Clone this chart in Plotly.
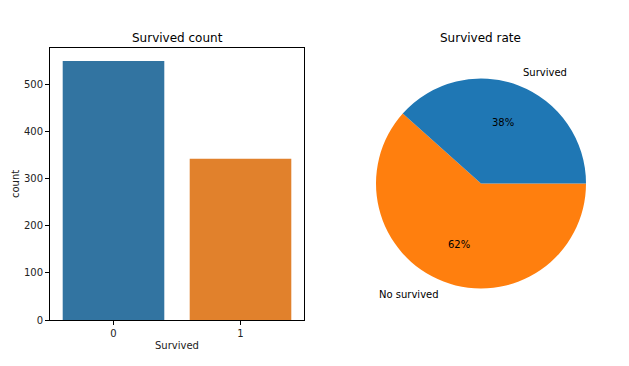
import math
import plotly.graph_objects as go

# ---- data ----
bar_categories = ["0", "1"]
bar_counts = [549, 342]
pie_labels = ["Survived", "No survived"]
pie_values = [342, 549]

bar_colors = ["#3274a1", "#e1812c"]
pie_colors = ["#1f77b4", "#ff7f0e"]

W, H = 629, 366
FONT = "DejaVu Sans"

def px(x):
    return x / W

def py(y):
    return 1 - y / H

fig = go.Figure()

fig.add_trace(go.Bar(
    x=bar_categories, y=bar_counts,
    marker=dict(color=bar_colors, line=dict(width=0)),
    xaxis="x", yaxis="y", showlegend=False, hoverinfo="x+y",
))

# pie geometry (pixels)
cx, cy, r = 481, 183.5, 105
rx, ry = 101.5, 108.5

# matplotlib draws counterclockwise from 3 o'clock; plotly: reverse order, clockwise from 3 o'clock
fig.add_trace(go.Pie(
    labels=pie_labels[::-1], values=pie_values[::-1],
    marker=dict(colors=pie_colors[::-1], line=dict(width=0)),
    sort=False, direction="clockwise", rotation=90,
    textinfo="none", showlegend=False, automargin=False,
    domain=dict(x=[px(cx - r), px(cx + r)], y=[py(cy + r), py(cy - r)]),
))

annotations = []
total = sum(pie_values)
start = 0.0
for lab, v in zip(pie_labels, pie_values):
    frac = v / total
    mid = math.radians((start + frac / 2) * 360)
    start += frac
    c, s = math.cos(mid), math.sin(mid)
    lx = cx + 1.1 * rx * c
    ly = cy - 1.1 * ry * s
    annotations.append(dict(
        x=px(lx), y=py(ly), xref="paper", yref="paper", text=lab,
        showarrow=False, xanchor="left" if c > 0 else "right", yanchor="middle",
        font=dict(family=FONT, size=10, color="#000000"),
    ))
    tx = cx + 0.6 * rx * c
    ty = cy - 0.6 * ry * s
    annotations.append(dict(
        x=px(tx), y=py(ty), xref="paper", yref="paper", text=f"{round(frac*100):.0f}%",
        showarrow=False, xanchor="center", yanchor="middle",
        font=dict(family=FONT, size=10, color="#000000"),
    ))

annotations.append(dict(x=px(177), y=py(38), xref="paper", yref="paper", text="Survived count",
                        showarrow=False, xanchor="center", yanchor="middle",
                        font=dict(family=FONT, size=12, color="#000000")))
annotations.append(dict(x=px(481), y=py(38), xref="paper", yref="paper", text="Survived rate",
                        showarrow=False, xanchor="center", yanchor="middle",
                        font=dict(family=FONT, size=12, color="#000000")))
annotations.append(dict(x=px(177), y=py(345), xref="paper", yref="paper", text="Survived",
                        showarrow=False, xanchor="center", yanchor="middle",
                        font=dict(family=FONT, size=10, color="#222222")))
annotations.append(dict(x=px(15), y=py(184), xref="paper", yref="paper", text="count",
                        showarrow=False, xanchor="center", yanchor="middle", textangle=-90,
                        font=dict(family=FONT, size=10, color="#222222")))

fig.update_layout(
    width=W, height=H,
    margin=dict(l=0, r=0, t=0, b=0, autoexpand=False),
    paper_bgcolor="white", plot_bgcolor="white",
    bargap=0.2,
    font=dict(family=FONT, size=10, color="#222222"),
    xaxis=dict(
        domain=[px(50), px(304)], anchor="y", type="category", automargin=False,
        range=[-0.5, 1.5], showgrid=False, zeroline=False,
        showline=True, mirror=True, linecolor="#000000", linewidth=1,
        ticks="outside", ticklen=4, tickcolor="#000000", tickwidth=1,
        tickfont=dict(family=FONT, size=10, color="#222222"),
    ),
    yaxis=dict(
        domain=[py(320), py(48)], anchor="x", automargin=False,
        range=[0, 576.45], showgrid=False, zeroline=False,
        showline=True, mirror=True, linecolor="#000000", linewidth=1,
        tickvals=[0, 100, 200, 300, 400, 500],
        ticks="outside", ticklen=4, tickcolor="#000000", tickwidth=1,
        tickfont=dict(family=FONT, size=10, color="#222222"),
    ),
    annotations=annotations,
)

fig.write_html("out.html", config={"displayModeBar": False},
               post_script="document.body.style.margin='0';document.body.style.overflow='hidden';")
